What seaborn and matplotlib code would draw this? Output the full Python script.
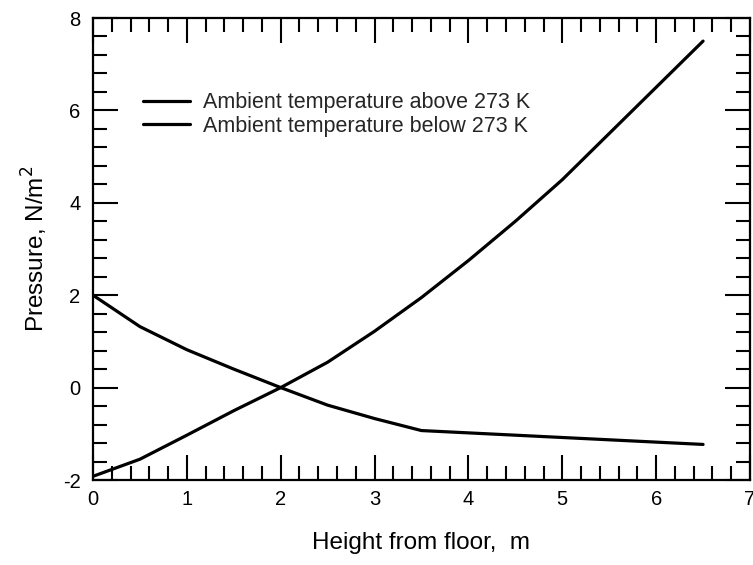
import matplotlib
matplotlib.use("Agg")
import matplotlib.pyplot as plt
from matplotlib.ticker import MultipleLocator
import numpy as np
import pandas as pd
import seaborn as sns

# Height from floor (m) and the pressure profiles (N/m^2)
height = [0.0, 0.5, 1.0, 1.5, 2.0, 2.5, 3.0, 3.5, 4.0, 4.5, 5.0, 5.5, 6.0, 6.5]
p_above = [-1.92, -1.55, -1.03, -0.50, 0.00, 0.55, 1.22, 1.95, 2.75, 3.60, 4.50, 5.50, 6.50, 7.50]
p_below = [2.00, 1.32, 0.82, 0.40, 0.00, -0.38, -0.67, -0.93, -0.98, -1.03, -1.08, -1.13, -1.18, -1.23]
series_names = ["Ambient temperature above 273 K", "Ambient temperature below 273 K"]

df = pd.concat([
    pd.DataFrame({"height": height, "pressure": p_above, "case": series_names[0]}),
    pd.DataFrame({"height": height, "pressure": p_below, "case": series_names[1]}),
])

sns.set_theme(style="ticks")
plt.rcParams["font.family"] = ["Liberation Sans", "DejaVu Sans"]
plt.rcParams["axes.unicode_minus"] = False

fig = plt.figure(figsize=(7.53, 5.65), dpi=100)
ax = fig.add_axes([93 / 753, 1 - 480 / 565, (750 - 93) / 753, (480 - 18) / 565])

sns.lineplot(data=df, x="height", y="pressure", hue="case",
             palette=["black", "black"], linewidth=2.3, ax=ax, sort=False)

ax.set_xlim(0, 7)
ax.set_ylim(-2, 8)
ax.xaxis.set_major_locator(MultipleLocator(1))
ax.xaxis.set_minor_locator(MultipleLocator(0.2))
ax.yaxis.set_major_locator(MultipleLocator(2))
ax.yaxis.set_minor_locator(MultipleLocator(0.4))
ax.tick_params(which="both", direction="in", top=True, right=True,
               width=1.5, color="black", labelsize=14.5, labelcolor="black")
ax.tick_params(which="major", length=18)
ax.tick_params(axis="x", which="major", pad=7)
ax.tick_params(axis="y", which="major", pad=9)
ax.tick_params(which="minor", length=10)
for s in ax.spines.values():
    s.set_linewidth(1.6)
    s.set_color("black")

ax.set_xlabel("Height from floor,  m", fontsize=17.5, labelpad=17, color="black")
ax.set_ylabel("Pressure, N/m$^2$", fontsize=17.5, labelpad=9, color="black")

leg = ax.legend(loc="upper left", bbox_to_anchor=(0.076, 0.839), frameon=False,
                fontsize=15.5, handlelength=2.2, handletextpad=0.58,
                labelspacing=0.1, borderpad=0, borderaxespad=0)

fig.savefig("out.png", dpi=100)
